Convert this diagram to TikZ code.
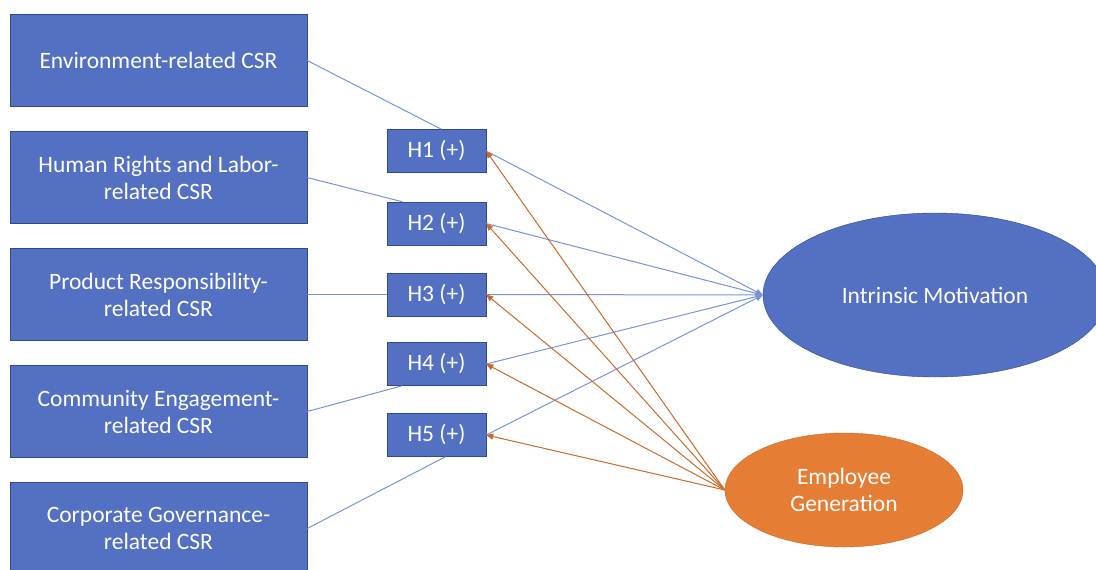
\documentclass[tikz,border=0pt]{standalone}
\usepackage{fontspec}
\setmainfont{Carlito}
\usetikzlibrary{arrows.meta, shapes.geometric}
\definecolor{csrblue}{HTML}{5370C2}
\definecolor{csrline}{HTML}{2F4B8C}
\definecolor{linkblue}{HTML}{7893DA}
\definecolor{genorange}{HTML}{E67D35}
\definecolor{genline}{HTML}{C96A2A}
\tikzset{
  csrbox/.style = {draw = csrline, fill = csrblue, text = white, minimum width = 297, minimum height = 92,
                   align = center, font = \fontsize{23.5}{27}\selectfont},
  hbox/.style = {draw = csrline, fill = csrblue, text = white, minimum width = 99, minimum height = 43,
                 font = \fontsize{23.5}{27}\selectfont},
  link/.style = {draw = linkblue, line width = 1},
  effect/.style = {link, -{Triangle[length = 7, width = 6]}},
  moderate/.style = {draw = genline, line width = 1, -{Triangle[length = 7, width = 6]}}
}

\begin{document}
\begin{tikzpicture}[x=1pt, y=-1pt]
    \clip (0, 0) rectangle (1096, 570);

    \node [csrbox] (env) at (158.5, 60.5) {Environment-related CSR};
    \node [csrbox] (hr) at (158.5, 177.5) {Human Rights and Labor-\\related CSR};
    \node [csrbox] (prod) at (158.5, 294.5) {Product Responsibility-\\related CSR};
    \node [csrbox] (comm) at (158.5, 411.5) {Community Engagement-\\related CSR};
    \node [csrbox] (gov) at (158.5, 528.5) {Corporate Governance-\\related CSR};

    \node [hbox] (h1) at (436.5, 151) {H1 (+)};
    \node [hbox] (h2) at (436.5, 223.5) {H2 (+)};
    \node [hbox] (h3) at (436.5, 294.5) {H3 (+)};
    \node [hbox] (h4) at (436.5, 364) {H4 (+)};
    \node [hbox] (h5) at (436.5, 435) {H5 (+)};

    \node [ellipse, draw = csrline, fill = csrblue, text = white, minimum width = 344, minimum height = 164,
           inner sep = 0, font = \fontsize{23.5}{27}\selectfont] (im) at (935, 295) {Intrinsic Motivation};
    \node [ellipse, draw = genline, fill = genorange, text = white, minimum width = 238, minimum height = 114,
           inner sep = 0, align = center, font = \fontsize{23.5}{27}\selectfont] (eg) at (844, 490) {Employee\\Generation};

    % CSR dimensions to hypotheses
    \draw [link] (env.east) -- ([xshift = 5]h1.north);
    \draw [link] (hr.east) -- ([xshift = -34]h2.north);
    \draw [link] (prod.east) -- (h3.west);
    \draw [link] (comm.east) -- ([xshift = -34]h4.south);
    \draw [link] (gov.east) -- ([xshift = 9]h5.south);

    % hypotheses to intrinsic motivation
    \foreach \h in {h1, h2, h3, h4, h5}
      \draw [effect] (\h.east) -- (im.west);

    % employee generation to hypotheses
    \foreach \h in {h1, h2, h3, h4, h5}
      \draw [moderate] (eg.west) -- (\h.east);
\end{tikzpicture}
\end{document}
